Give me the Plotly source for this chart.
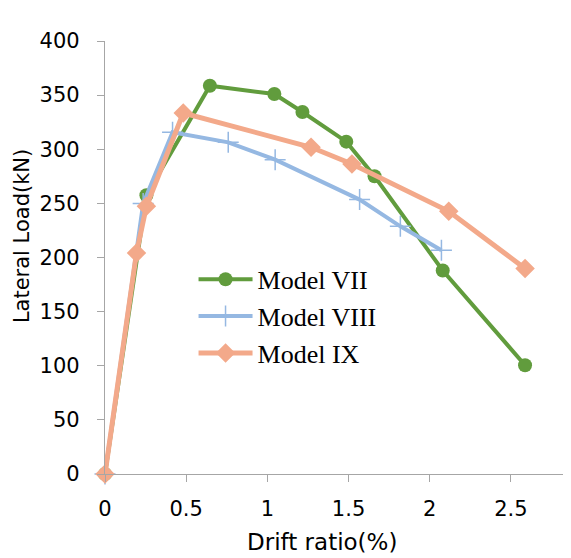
import plotly.graph_objects as go

# Data
x_vii = [0, 0.255, 0.646, 1.043, 1.216, 1.486, 1.66, 2.08, 2.587]
y_vii = [0, 257.5, 358.7, 351, 334.4, 307, 275, 188, 100.5]

x_viii = [0, 0.235, 0.416, 0.759, 1.048, 1.568, 1.819, 2.072]
y_viii = [0, 249.8, 315.6, 306.4, 290.4, 253.5, 228.8, 206.7]

x_ix = [0, 0.194, 0.255, 0.482, 1.269, 1.521, 2.117, 2.587]
y_ix = [0, 204.2, 247.3, 333.5, 301.8, 286.4, 242.7, 189.8]

names = ["Model VII", "Model VIII", "Model IX"]
x_ticks = [0, 0.5, 1, 1.5, 2, 2.5]
x_tick_text = ["0", "0.5", "1", "1.5", "2", "2.5"]
y_ticks = [0, 50, 100, 150, 200, 250, 300, 350, 400]
x_title = "Drift ratio(%)"
y_title = "Lateral Load(kN)"

GREEN = "#619C3D"
BLUE = "#95B8E2"
ORANGE = "#F3A98A"
AXIS = "#A6A6A6"
SANS = "DejaVu Sans, sans-serif"

fig = go.Figure()
fig.add_trace(go.Scatter(
    x=x_vii, y=y_vii, name=names[0], mode="lines+markers",
    line=dict(color=GREEN, width=4),
    marker=dict(symbol="circle", size=14, color=GREEN),
    cliponaxis=False))
fig.add_trace(go.Scatter(
    x=x_viii, y=y_viii, name=names[1], mode="lines+markers",
    line=dict(color=BLUE, width=4),
    marker=dict(symbol="cross-thin", size=15, color=BLUE,
                line=dict(color=BLUE, width=1.5)),
    cliponaxis=False))
fig.add_trace(go.Scatter(
    x=x_ix, y=y_ix, name=names[2], mode="lines+markers",
    line=dict(color=ORANGE, width=5),
    marker=dict(symbol="diamond", size=15, color=ORANGE),
    cliponaxis=False))

# page body has an 8px margin, so the figure is sized 8px smaller
fig.update_layout(
    width=563, height=550,
    margin=dict(l=97, r=0, t=33, b=84, autoexpand=False),
    paper_bgcolor="white", plot_bgcolor="white",
    font=dict(family=SANS, size=19, color="#000000"),
    showlegend=True,
    legend=dict(
        x=0.19, y=0.364, xanchor="left", yanchor="middle",
        font=dict(family="Liberation Serif, Times New Roman, serif", size=26, color="#000000"),
        bgcolor="rgba(0,0,0,0)", borderwidth=0, tracegroupgap=0,
        itemwidth=54,
    ),
    annotations=[
        dict(text=x_title, xref="paper", yref="paper", x=0.4657, y=-0.158,
             xanchor="center", yanchor="middle", showarrow=False,
             font=dict(family=SANS, size=23, color="#000000")),
        dict(text=y_title, xref="paper", yref="paper", x=-0.178, y=0.5495,
             xanchor="center", yanchor="middle", showarrow=False, textangle=-90,
             font=dict(family=SANS, size=21, color="#000000")),
    ],
)
fig.update_xaxes(
    range=[0, 2.87], tickvals=x_ticks, ticktext=x_tick_text, automargin=False,
    showgrid=False, zeroline=False,
    showline=True, linecolor=AXIS, linewidth=1.3,
    ticks="outside", ticklen=7, tickcolor=AXIS, tickwidth=1.3,
    tickfont=dict(family=SANS, size=21), ticklabelstandoff=9,
)
fig.update_yaxes(
    range=[0, 400], tickvals=y_ticks, automargin=False,
    showgrid=False, zeroline=False,
    showline=True, linecolor=AXIS, linewidth=1.3,
    ticks="outside", ticklen=7, tickcolor=AXIS, tickwidth=1.3,
    tickfont=dict(family=SANS, size=21), ticklabelstandoff=13,
)

fig.write_html("out.html")
